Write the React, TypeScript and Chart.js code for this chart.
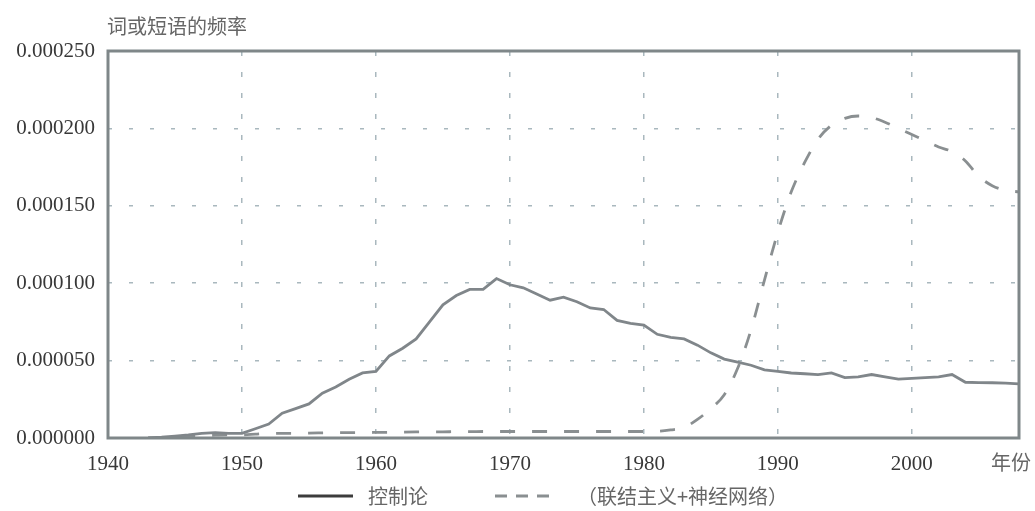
import React, { useEffect, useRef } from "react";
import { Chart, registerables } from "chart.js";

Chart.register(...registerables);

// ---- data ----
const years = [
  1940, 1941, 1942, 1943, 1944, 1945, 1946, 1947, 1948, 1949,
  1950, 1951, 1952, 1953, 1954, 1955, 1956, 1957, 1958, 1959,
  1960, 1961, 1962, 1963, 1964, 1965, 1966, 1967, 1968, 1969,
  1970, 1971, 1972, 1973, 1974, 1975, 1976, 1977, 1978, 1979,
  1980, 1981, 1982, 1983, 1984, 1985, 1986, 1987, 1988, 1989,
  1990, 1991, 1992, 1993, 1994, 1995, 1996, 1997, 1998, 1999,
  2000, 2001, 2002, 2003, 2004, 2005, 2006, 2007, 2008,
];

// 控制论
const cybernetics = [
  null, null, null, 0, 0.0000005, 0.0000012, 0.000002, 0.000003, 0.0000035, 0.000003,
  0.000003, 0.000006, 0.000009, 0.000016, 0.000019, 0.000022, 0.000029, 0.000033, 0.000038, 0.000042,
  0.000043, 0.000053, 0.000058, 0.000064, 0.000075, 0.000086, 0.000092, 0.000096, 0.000096, 0.000103,
  0.000099, 0.000097, 0.000093, 0.000089, 0.000091, 0.000088, 0.000084, 0.000083, 0.000076, 0.000074,
  0.000073, 0.000067, 0.000065, 0.000064, 0.00006, 0.000055, 0.000051, 0.000049, 0.000047, 0.000044,
  0.000043, 0.000042, 0.0000415, 0.000041, 0.000042, 0.000039, 0.0000395, 0.000041, 0.0000395, 0.000038,
  0.0000385, 0.000039, 0.0000395, 0.000041, 0.000036, 0.0000358, 0.0000357, 0.0000355, 0.000035,
];

// （联结主义+神经网络）
const connectionism = [
  null, null, null, 0, 0.0000003, 0.0000008, 0.0000012, 0.0000015, 0.0000018, 0.000002,
  0.000002, 0.0000025, 0.000003, 0.000003, 0.000003, 0.0000032, 0.0000033, 0.0000034, 0.0000035, 0.0000035,
  0.0000036, 0.0000037, 0.0000038, 0.0000039, 0.000004, 0.000004, 0.0000041, 0.0000041, 0.0000042, 0.0000042,
  0.0000042, 0.0000042, 0.0000042, 0.0000042, 0.0000042, 0.0000042, 0.0000042, 0.0000042, 0.0000042, 0.0000042,
  0.0000042, 0.0000043, 0.0000052, 0.0000068, 0.000012, 0.000019, 0.000028, 0.000045, 0.00007, 0.000102,
  0.000133, 0.000159, 0.000178, 0.000193, 0.000202, 0.0002065, 0.000208, 0.000207, 0.000204, 0.0002,
  0.000196, 0.000192, 0.000188, 0.000185, 0.000179, 0.000169, 0.000163, 0.00016, 0.000159,
];

const seriesLabels = ["控制论", "（联结主义+神经网络）"];
const xTicks = [1940, 1950, 1960, 1970, 1980, 1990, 2000];
const yTicks = [0, 0.00005, 0.0001, 0.00015, 0.0002, 0.00025];
const yTitle = "词或短语的频率";
const xTitle = "年份";

const CJK = '"Noto Sans CJK SC", "Noto Sans", sans-serif';
const SERIF = '"Liberation Serif", "DejaVu Serif", serif';

const decorPlugin = {
  id: "decor",
  afterDatasetsDraw(chart: any) {
    const { ctx, chartArea: a } = chart;
    ctx.save();
    // frame
    ctx.strokeStyle = "#7f8789";
    ctx.lineWidth = 3;
    ctx.setLineDash([]);
    ctx.strokeRect(a.left, a.top, a.right - a.left, a.bottom - a.top);

    // titles
    ctx.fillStyle = "#666";
    ctx.font = `20px ${CJK}`;
    ctx.textBaseline = "middle";
    ctx.textAlign = "left";
    ctx.fillText(yTitle, a.left - 1, 26);
    ctx.textAlign = "center";
    ctx.fillText(xTitle, 1011, 462);

    // legend
    const items = [
      { sx: 298, tx: 368, color: "#3c3c3c", dash: [] as number[] },
      { sx: 495, tx: 577, color: "#8a8f91", dash: [12, 9] },
    ];
    const ly = 496;
    chart.data.datasets.forEach((ds: any, i: number) => {
      const it = items[i];
      ctx.beginPath();
      ctx.strokeStyle = it.color;
      ctx.lineWidth = 3;
      ctx.setLineDash(it.dash);
      ctx.moveTo(it.sx, ly);
      ctx.lineTo(it.sx + 55, ly);
      ctx.stroke();
      ctx.setLineDash([]);
      ctx.fillStyle = "#666";
      ctx.textAlign = "left";
      ctx.fillText(ds.label, it.tx, ly);
    });
    ctx.restore();
  },
};

export default function App() {
  const ref = useRef<HTMLCanvasElement | null>(null);

  useEffect(() => {
    if (!ref.current) return;
    const chart = new Chart(ref.current, {
      type: "line",
      data: {
        datasets: [
          {
            label: seriesLabels[0],
            data: years.map((y, i) => ({ x: y, y: cybernetics[i] })),
            borderColor: "#80868a",
            borderWidth: 2.8,
            pointRadius: 0,
            tension: 0,
            fill: false,
          },
          {
            label: seriesLabels[1],
            data: years.map((y, i) => ({ x: y, y: connectionism[i] })),
            borderColor: "#8a8f91",
            borderWidth: 2.8,
            borderDash: [15, 17],
            pointRadius: 0,
            cubicInterpolationMode: "monotone",
            fill: false,
          },
        ],
      },
      options: {
        animation: false,
        responsive: false,
        maintainAspectRatio: false,
        layout: { padding: { top: 51, right: 16, left: 0, bottom: 0 } },
        plugins: {
          legend: { display: false },
          tooltip: { enabled: false },
          title: { display: false },
        },
        scales: {
          x: {
            type: "linear",
            min: 1940,
            max: 2008,
            afterBuildTicks: (s: any) => {
              s.ticks = xTicks.map((v) => ({ value: v }));
            },
            afterFit: (s: any) => {
              s.height = 73;
            },
            ticks: {
              color: "#383838",
              font: { family: SERIF, size: 21 },
              padding: 14,
              maxRotation: 0,
              autoSkip: false,
              callback: (v: any) => String(v),
            },
            grid: {
              color: "#a9b8be",
              lineWidth: 1.5,
              drawTicks: false,
            },
            border: { display: false, dash: [5, 16] },
          },
          y: {
            min: 0,
            max: 0.00025,
            afterBuildTicks: (s: any) => {
              s.ticks = yTicks.map((v) => ({ value: v }));
            },
            afterFit: (s: any) => {
              s.width = 108;
            },
            ticks: {
              color: "#383838",
              font: { family: SERIF, size: 21 },
              padding: 13,
              autoSkip: false,
              callback: (v: any) => Number(v).toFixed(6),
            },
            grid: {
              color: "#a9b8be",
              lineWidth: 1.5,
              drawTicks: false,
            },
            border: { display: false, dash: [4, 17] },
          },
        },
      },
      plugins: [decorPlugin],
    });
    return () => chart.destroy();
  }, []);

  return (
    <div style={{ position: "absolute", left: 0, top: 0, width: 1035, height: 511, background: "#fff" }}>
      <canvas ref={ref} width={1035} height={511} style={{ display: "block", width: 1035, height: 511 }} />
    </div>
  );
}
